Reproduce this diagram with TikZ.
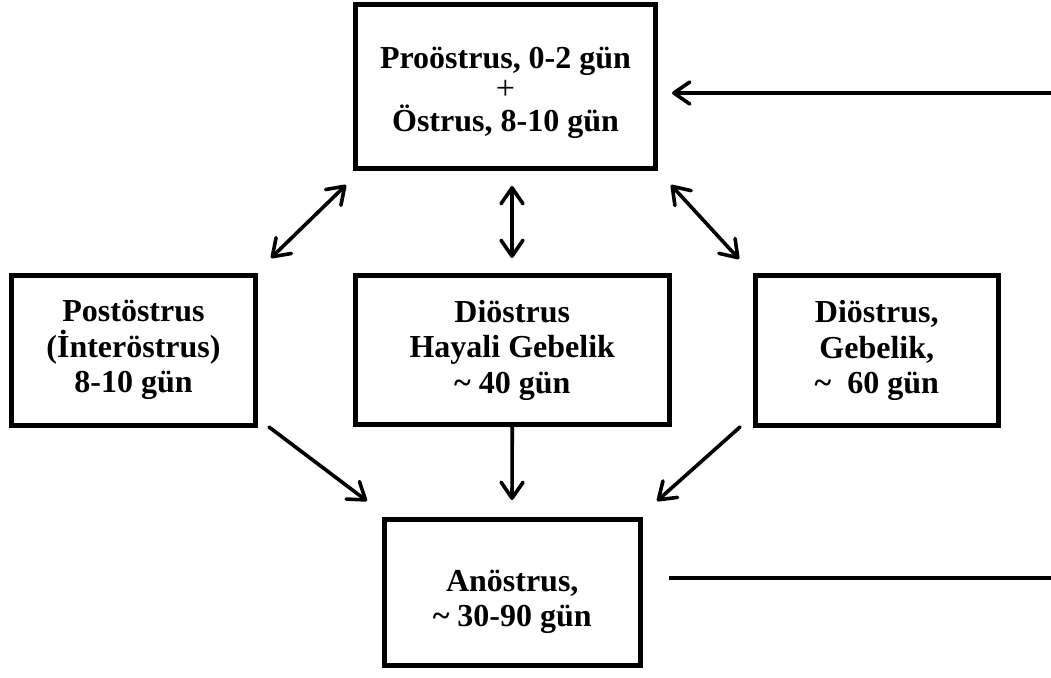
\documentclass[tikz,border=0pt]{standalone}
\usepackage{fontspec}
\setmainfont{Liberation Serif}
\usetikzlibrary{arrows.meta}
\tikzset{
  stage/.style={draw, line width=5pt, rectangle, align=center, inner sep=0pt,
    font=\bfseries\fontsize{32}{35.5}\selectfont},
  conn/.style={line width=3.6pt, line cap=round,
    -{Straight Barb[length=16pt,width=22pt,line cap=round,line join=round]}},
  biconn/.style={line width=3.6pt, line cap=round,
    {Straight Barb[length=16pt,width=22pt,line cap=round,line join=round]}-{Straight Barb[length=16pt,width=22pt,line cap=round,line join=round]}},
  plain/.style={line width=4pt}
}
\begin{document}
\begin{tikzpicture}[x=1pt,y=-1pt]
\useasboundingbox (0,0) rectangle (1051,677);
\node[stage, minimum width=300pt, minimum height=164pt] (pro) at (505.5,86.5)
  {\rule{0pt}{34pt}Proöstrus, 0-2 gün\\[-4pt]{\mdseries\fontsize{34}{35.5}\selectfont +}\\[-4pt]Östrus, 8-10 gün};
\node[stage, minimum width=244pt, minimum height=150.5pt] (post) at (133.5,350.25)
  {Postöstrus\\(İnteröstrus)\\8-10 gün};
\node[stage, minimum width=314.5pt, minimum height=149pt] (hay) at (512.25,350)
  {Diöstrus\\Hayali Gebelik\\\textasciitilde\ 40 gün};
\node[stage, minimum width=243.5pt, minimum height=150.5pt] (geb) at (876.75,350.5)
  {Diöstrus,\\Gebelik,\\\textasciitilde\ \ 60 gün};
\node[stage, minimum width=256.5pt, minimum height=146.5pt] (ano) at (512.25,592.25)
  {\rule{0pt}{41pt}Anöstrus,\\\textasciitilde\ 30-90 gün};

% free ends of connectors
\coordinate (a1s) at (346,185); \coordinate (a1e) at (271,258);
\coordinate (a2s) at (512,186); \coordinate (a2e) at (512,258);
\coordinate (a3s) at (671,185); \coordinate (a3e) at (739,259);
\coordinate (b1s) at (269,427); \coordinate (b1e) at (367,501);
\coordinate (b2e) at (512,500);
\coordinate (b3s) at (740,427); \coordinate (b3e) at (657,501);
\coordinate (inS) at (1051,93);  \coordinate (inE) at (672,93);
\coordinate (outS) at (669,578); \coordinate (outE) at (1051,578);

\draw[biconn] (a1s) -- (a1e);
\draw[biconn] (a2s) -- (a2e);
\draw[biconn] (a3s) -- (a3e);
\draw[conn] (b1s) -- (b1e);
\draw[conn] (hay.south) -- (b2e);
\draw[conn] (b3s) -- (b3e);
\draw[conn, line cap=butt] (inS) -- (inE);
\draw[plain] (outS) -- (outE);
\end{tikzpicture}
\end{document}
